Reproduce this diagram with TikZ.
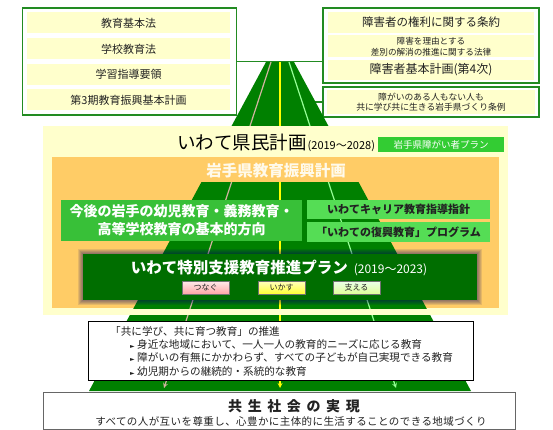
\documentclass[tikz,border=0pt]{standalone}
\usepackage{fontspec}
\setmainfont{Noto Sans CJK JP}
\newfontfamily\symfont{DejaVu Sans}
\usetikzlibrary{arrows}

\definecolor{roadgreen}{RGB}{0,128,0}
\definecolor{framegreen}{RGB}{34,139,34}
\definecolor{stripyellow}{RGB}{255,255,204}
\definecolor{panelorange}{RGB}{255,204,102}
\definecolor{plangreen}{RGB}{51,204,51}
\definecolor{basegreen}{RGB}{56,192,56}
\definecolor{careergreen}{RGB}{85,221,85}
\definecolor{darkplan}{RGB}{0,110,0}
\definecolor{laneA}{RGB}{210,180,160}
\definecolor{laneB}{RGB}{255,255,0}
\definecolor{laneC}{RGB}{150,255,150}
\definecolor{glow}{RGB}{255,250,235}
\definecolor{ink}{RGB}{34,34,34}

\newcommand{\fsz}[2]{\fontsize{#1}{#2}\selectfont}

\tikzset{
  lawbox/.style={draw=framegreen, line width=1.5pt, fill=white, inner sep=0pt},
  strip/.style={fill=stripyellow, inner sep=0pt, text=ink, align=center},
  btn/.style={draw=black!55, line width=0.6pt, minimum width=47pt, minimum height=13pt,
    inner sep=0pt, text=ink, font=\fsz{8}{8}},
  lane/.style={line width=1.2pt, -stealth}
}

\begin{document}
\begin{tikzpicture}[x=1pt,y=-1pt]
\useasboundingbox (0,0) rectangle (553,430);

\coordinate (rtl) at (266,62);
\coordinate (rtr) at (294,62);
\coordinate (rbr) at (471,391);
\coordinate (rbl) at (89,391);

% laws and plans on top
\node[lawbox, minimum width=214pt, minimum height=107pt] (lawL) at (129.5,61.5) {};
\node[strip, minimum width=203pt, minimum height=21pt, font=\fsz{11}{11}] (kihon) at (128.5,23) {教育基本法};
\node[strip, minimum width=203pt, minimum height=21pt, font=\fsz{11}{11}] (gakko) at (128.5,49) {学校教育法};
\node[strip, minimum width=203pt, minimum height=21pt, font=\fsz{11}{11}] (yoryo) at (128.5,74.5) {学習指導要領};
\node[strip, minimum width=203pt, minimum height=21pt, font=\fsz{11}{11}] (dai3ki) at (128.5,100) {第3期教育振興基本計画};

\node[lawbox, minimum width=216pt, minimum height=75pt] (kenri) at (431,45.5) {};
\node[strip, minimum width=206pt, minimum height=21pt, font=\fsz{11.5}{12}] (joyaku) at (431,22.5) {障害者の権利に関する条約};
\node[strip, minimum width=206pt, minimum height=22pt, font=\fsz{8.6}{10.6}] (sabetsu) at (431,46.5) {障害を理由とする\\差別の解消の推進に関する法律};
\node[strip, minimum width=206pt, minimum height=20pt, font=\fsz{12}{12}] (dai4ji) at (431,70) {障害者基本計画(第4次)};
\node[lawbox, minimum width=216pt, minimum height=30pt] (jorei) at (431,102) {};
\node[strip, minimum width=208pt, minimum height=24pt, font=\fsz{8.8}{10.7}] (joreiTxt) at (431,102) {障がいのある人もない人も\\共に学び共に生きる岩手県づくり条例};

\draw[framegreen, line width=1.5pt] (lawL.east) -- (lawL.east -| kenri.west);
\draw[framegreen, line width=1.5pt] (jorei.west) -- (jorei.west -| rtl);

% road
\fill[roadgreen] (rtl) -- (rtr) -- (rbr) -- (rbl) -- cycle;
\foreach \xa/\xb/\c in {271/164/laneA, 280/280/laneB, 289/396/laneC}
  \draw[lane, \c] (\xa,62) -- (\xb,388);

% prefectural plan
\fill[stripyellow] (43,126) rectangle (508,315);
\fill[panelorange] (52,157) rectangle (499,308);
\begin{scope}
  \clip (52,183) rectangle (499,308);
  \fill[roadgreen] (rtl) -- (rtr) -- (rbr) -- (rbl) -- cycle;
  \foreach \xa/\xb/\c in {271/164/laneA, 280/280/laneB, 289/396/laneC}
    \draw[lane, \c] (\xa,62) -- (\xb,388);
\end{scope}

\node[anchor=base west, inner sep=0pt] (kenmin) at (177,150) {\fsz{18.5}{18.5}いわて県民計画\hspace{1pt}\fsz{11}{11}(2019～2028)};
\node[fill=plangreen, text=white, minimum width=126pt, minimum height=15pt, inner sep=0pt, font=\fsz{9.5}{9.5}] (shogaiplan) at (441,144.5) {岩手県障がい者プラン};
\node[text=glow, font=\bfseries\fsz{15.5}{15.5}] (shinko) at (276,171) {岩手県教育振興計画};

\node[fill=basegreen, text=white, minimum width=241pt, minimum height=41pt, inner sep=0pt, align=center, font=\bfseries\fsz{14}{18}] (hoko) at (181.5,220.5) {今後の岩手の幼児教育・義務教育・\\高等学校教育の基本的方向};
\node[fill=careergreen, text=ink, minimum width=183pt, minimum height=19pt, inner sep=0pt, font=\bfseries\fsz{11}{11}] (career) at (398.5,209.5) {いわてキャリア教育指導指針};
\node[fill=careergreen, text=ink, minimum width=183pt, minimum height=20pt, inner sep=0pt, font=\bfseries\fsz{11}{11}] (fukko) at (398.5,232) {「いわての復興教育」プログラム};

% special support plan
\foreach \r in {1,...,5}
  \fill[black!60!blue, opacity=0.1] (83-\r,254-\r) rectangle (477+\r,300+\r);
\node[fill=darkplan, minimum width=394pt, minimum height=46pt, inner sep=0pt] (tokushi) at (280,277) {};
\node[text=white, inner sep=0pt, anchor=base, font=\bfseries\fsz{15.5}{15.5}] (tokushiTtl) at (279,273) {いわて特別支援教育推進プラン\hspace{6pt}{\mdseries\fsz{12}{12}(2019～2023)}};
\node[btn, top color=red!8, bottom color=red!35] (tsunagu) at (205.5,287.5) {つなぐ};
\node[btn, top color=yellow!25, bottom color=yellow!80] (ikasu) at (281.5,287.5) {いかす};
\node[btn, top color=green!8, bottom color=green!30!yellow!40] (sasaeru) at (356.5,287.5) {支える};

% inclusive education
\node[draw=black, line width=0.8pt, fill=white, minimum width=385pt, minimum height=59pt, inner sep=0pt] (suishin) at (280.5,350.5) {};
\node[anchor=north west, inner sep=0pt, align=left, text=ink, font=\fsz{10.6}{13.3}] (suishinTxt) at (110,326) {「共に学び、共に育つ教育」の推進\\
\hspace*{20pt}{\symfont\fsz{6}{6}►}\ 身近な地域において、一人一人の教育的ニーズに応じる教育\\
\hspace*{20pt}{\symfont\fsz{6}{6}►}\ 障がいの有無にかかわらず、すべての子どもが自己実現できる教育\\
\hspace*{20pt}{\symfont\fsz{6}{6}►}\ 幼児期からの継続的・系統的な教育};

% goal
\node[draw=black!60, line width=0.8pt, fill=white, minimum width=472pt, minimum height=37pt, inner sep=0pt] (kyosei) at (279,410.5) {};
\node[inner sep=0pt, text=ink, font=\bfseries\fsz{14}{14}\addfontfeature{LetterSpace=40}] (kyoseiTtl) at (294,406) {共生社会の実現};
\node[inner sep=0pt, text=ink, font=\fsz{10.5}{10.5}\addfontfeature{LetterSpace=4}] (kyoseiSub) at (291,421) {すべての人が互いを尊重し、心豊かに主体的に生活することのできる地域づくり};
\end{tikzpicture}
\end{document}
